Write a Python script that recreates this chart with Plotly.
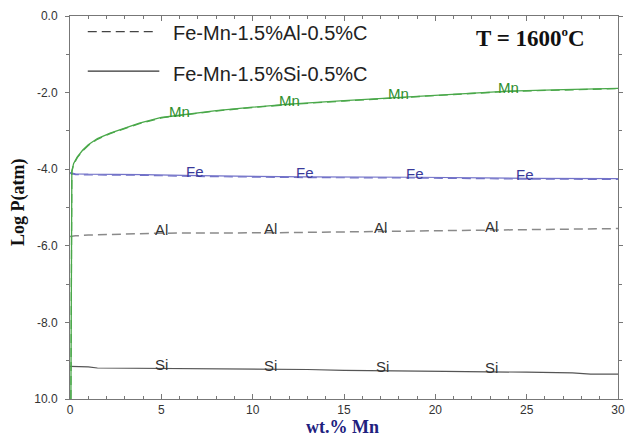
import numpy as np
import plotly.graph_objects as go

# ---- data: vapour pressures (log P, atm) vs. Mn content at 1600 C ----
# Fe-Mn-1.5%Si-0.5%C (solid lines)
mn_x_si = [0.05, 0.06, 0.1, 0.2, 0.4, 0.7, 1.0, 1.5, 2.2, 3.0, 3.8, 5.0, 6.0, 8.0,
           10.0, 12.0, 15.0, 18.0, 21.0, 24.0, 27.0, 30.0]
mn_y_si = [-10.0, -4.5, -4.05, -3.85, -3.68, -3.5, -3.36, -3.2, -3.06, -2.93, -2.8,
           -2.65, -2.585, -2.47, -2.38, -2.3, -2.21, -2.12, -2.04, -1.96, -1.92, -1.89]
fe_x_si = [0.0, 0.3, 1.0, 4.0, 7.0, 13.0, 19.0, 25.0, 30.0]
fe_y_si = [-4.09, -4.12, -4.13, -4.14, -4.17, -4.2, -4.21, -4.24, -4.245]
si_x = [0.0, 1.0, 1.5, 7.0, 8.0, 13.0, 15.0, 19.5, 20.5, 25.0, 27.5, 28.5, 30.0]
si_y = [-9.15, -9.16, -9.19, -9.2, -9.22, -9.23, -9.25, -9.26, -9.28, -9.3, -9.32, -9.35, -9.35]

# Fe-Mn-1.5%Al-0.5%C (dashed lines)
mn_x_al = [0.05, 0.06, 0.1, 0.2, 0.4, 0.7, 1.0, 1.5, 2.2, 3.0, 3.8, 5.0, 6.0, 8.0,
           10.0, 12.0, 15.0, 18.0, 21.0, 24.0, 27.0, 30.0]
mn_y_al = [-10.0, -4.52, -4.07, -3.87, -3.7, -3.52, -3.38, -3.22, -3.07, -2.94, -2.81,
           -2.66, -2.595, -2.48, -2.39, -2.31, -2.22, -2.13, -2.05, -1.97, -1.93, -1.895]
fe_x_al = [0.0, 0.3, 1.0, 4.0, 7.0, 13.0, 19.0, 25.0, 30.0]
fe_y_al = [-4.11, -4.14, -4.15, -4.16, -4.19, -4.22, -4.23, -4.26, -4.265]
al_x = [0.0, 0.3, 1.0, 5.0, 11.0, 18.0, 23.0, 30.0]
al_y = [-5.76, -5.74, -5.72, -5.67, -5.66, -5.63, -5.59, -5.55]

# label positions (wt.% Mn) along each curve
mn_label_x = [6.0, 12.0, 18.0, 24.0]
fe_label_x = [6.85, 12.85, 18.9, 24.9]
al_label_x = [5.0, 11.0, 17.0, 23.1]
si_label_x = [5.0, 11.0, 17.1, 23.1]

x_ticks = [0, 5, 10, 15, 20, 25, 30]
y_ticks = [0, -2, -4, -6, -8, -10]
y_tick_text = ["0.0", "-2.0", "-4.0", "-6.0", "-8.0", "10.0"]

legend_names = ["Fe-Mn-1.5%Al-0.5%C", "Fe-Mn-1.5%Si-0.5%C"]

GREEN = "#4aa84a"
BLUE = "#7272c8"
GRAY = "#8a8a8a"
DARK = "#555555"
DASH = "9px,5px"

fig = go.Figure()

def add_line(x, y, color, dash, width):
    fig.add_trace(go.Scatter(x=x, y=y, mode="lines",
                             line=dict(color=color, width=width, dash=dash),
                             hoverinfo="skip", showlegend=False))

add_line(si_x, si_y, DARK, "solid", 1.2)
add_line(al_x, al_y, GRAY, DASH, 1.5)
add_line(fe_x_al, fe_y_al, BLUE, DASH, 1.2)
add_line(fe_x_si, fe_y_si, BLUE, "solid", 1.2)
add_line(mn_x_al, mn_y_al, GREEN, DASH, 1.3)
add_line(mn_x_si, mn_y_si, GREEN, "solid", 1.3)

SANS = "Liberation Sans, Arial, sans-serif"
SERIF = "Liberation Serif, Times New Roman, serif"

def add_labels(text, xs, cx, cy, color):
    for xv in xs:
        fig.add_annotation(x=xv, y=float(np.interp(xv, cx, cy)), text=text,
                           showarrow=False, xanchor="center", yanchor="middle",
                           yshift=4, font=dict(family=SANS, size=15, color=color))

add_labels("Mn", mn_label_x, mn_x_si, mn_y_si, "#2f8f2f")
add_labels("Fe", fe_label_x, fe_x_si, fe_y_si, "#3a3a9a")
add_labels("Al", al_label_x, al_x, al_y, "#333333")
add_labels("Si", si_label_x, si_x, si_y, "#333333")

# legend drawn inside the plot area
fig.add_shape(type="line", xref="paper", yref="paper", x0=0.0324, x1=0.159,
              y0=0.959, y1=0.959, line=dict(color="#444444", width=1.2, dash=DASH))
fig.add_shape(type="line", xref="paper", yref="paper", x0=0.0324, x1=0.163,
              y0=0.856, y1=0.856, line=dict(color="#333333", width=1.2))
for name, yy in zip(legend_names, [0.955, 0.849]):
    fig.add_annotation(xref="paper", yref="paper", x=0.185, y=yy, text=name,
                       showarrow=False, xanchor="left", yanchor="middle",
                       font=dict(family=SANS, size=20, color="#222222"))

fig.add_annotation(xref="paper", yref="paper", x=0.841, y=0.944,
                   text="<b>T = 1600<sup><span style='font-size:13px'>o</span></sup>C</b>",
                   showarrow=False, xanchor="center", yanchor="middle",
                   font=dict(family=SERIF, size=23, color="#111111"))

# axis titles
fig.add_annotation(xref="paper", yref="paper", x=-0.093, y=0.512,
                   text="<b>Log P(atm)</b>", textangle=-90, showarrow=False,
                   xanchor="center", yanchor="middle",
                   font=dict(family=SERIF, size=18, color="#111111"))
fig.add_annotation(xref="paper", yref="paper", x=0.498, y=-0.072,
                   text="<b>wt.% Mn</b>", showarrow=False,
                   xanchor="center", yanchor="middle",
                   font=dict(family=SERIF, size=18, color="#20207e"))

axis_common = dict(showgrid=False, zeroline=False, showline=True, linecolor="#777777",
                   linewidth=1, mirror="allticks", tickcolor="#777777",
                   tickfont=dict(family=SANS, size=12, color="#333333"))

fig.update_xaxes(range=[0, 30], tickvals=x_ticks, ticks="inside", ticklen=5,
                 minor=dict(dtick=1, ticks="inside", ticklen=3, tickcolor="#777777"),
                 **axis_common)
fig.update_yaxes(range=[-10, 0], tickvals=y_ticks, ticktext=y_tick_text,
                 ticks="outside", ticklen=4, ticklabelstandoff=5,
                 minor=dict(dtick=1, ticks="outside", ticklen=3, tickcolor="#777777"),
                 **axis_common)

fig.update_layout(width=631, height=441,
                  margin=dict(l=70, r=6, t=16, b=42),
                  paper_bgcolor="white", plot_bgcolor="white",
                  showlegend=False, hovermode=False)

fig.write_html("out.html")
